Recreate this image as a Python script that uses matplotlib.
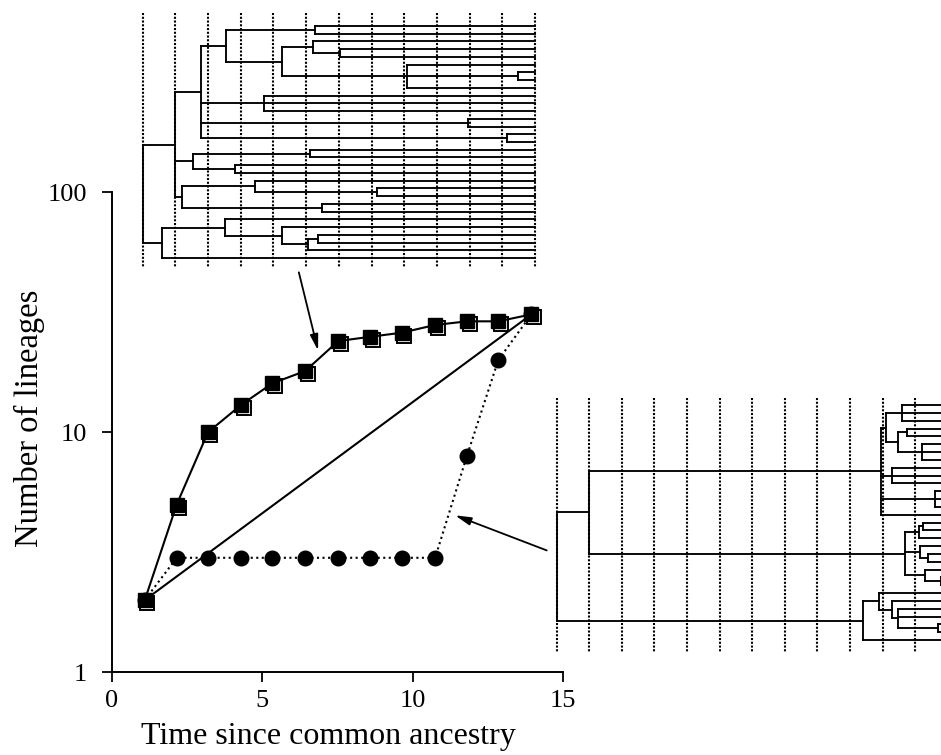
import matplotlib
matplotlib.use('Agg')
import matplotlib.pyplot as plt
import matplotlib.transforms as mtransforms
from matplotlib.ticker import NullLocator

plt.rcParams['font.family'] = ['Liberation Serif', 'DejaVu Serif']

W, H = 941, 755

# lineages-through-time data
time_pos = [1.10, 2.16, 3.20, 4.30, 5.34, 6.43, 7.53, 8.59, 9.64, 10.75, 11.81, 12.85, 13.95]
lineages_top = [2, 5, 10, 13, 16, 18, 24, 25, 26, 28, 29, 29, 31]
lineages_bottom = [2, 3, 3, 3, 3, 3, 3, 3, 3, 3, 8, 20, 31]

x_ticks = [0, 5, 10, 15]
y_ticks = [1, 10, 100]
y_ticklabels = ['1', '10', '100']

# trees: (node time, child, child, ...), T = tip
T = None
tip_time = 13.0
sample_times = list(range(1, 14))

top_tree = (1.0,
    (1.98,
        (2.78,
            (3.55,
                (6.27, T, T),
                (5.25,
                    (6.2, T, (7.05, T, T)),
                    (9.07, T, (12.48, T, T), T))),
            (4.71, T, T, T),
            (10.95, T, T),
            (12.14, T, T)),
        (2.54, (6.12, T, T), (3.82, T, T)),
        (2.19, (4.43, T, (8.16, T, T)), (6.47, T, T))),
    (1.58,
        (3.52, T, (5.25, T, (6.05, (6.35, T, T), T))),
        T))

bottom_tree = (1.0,
    (1.98,
        (10.95,
            (11.1, (11.6, T, T, T), (11.47, (11.76, T, T), (12.2, T, T, T))),
            (11.3, T, T, T),
            (12.6, T, T, T),
            T),
        (11.7,
            (12.1, (12.24, T, T), T),
            (12.15, T, (12.4, T, T)),
            (12.3, T, (12.8, T, T)))),
    (10.4,
        (10.9, T, (11.28, T, (11.47, T, T, (12.7, T, T)))),
        T))


def px_rect(left, top, right, bottom):
    return [left / W, 1 - bottom / H, (right - left) / W, (bottom - top) / H]


tree_style = dict(color='k', lw=1.35, solid_capstyle='projecting')


def draw_clade(ax, node, t_parent, counter):
    if node is None:
        y = counter[0]
        counter[0] += 1
        ax.plot([t_parent, tip_time], [y, y], **tree_style)
        return y
    t = node[0]
    ys = [draw_clade(ax, child, t, counter) for child in node[1:]]
    y = (ys[0] + ys[-1]) / 2
    ax.plot([t, t], [ys[0], ys[-1]], **tree_style)
    if t_parent is not None:
        ax.plot([t_parent, t], [y, y], **tree_style)
    return y


def draw_tree(ax, tree, dot_span):
    for t in sample_times:
        ax.plot([t, t], dot_span, color='k', lw=1.5, ls=(0, (1.0, 0.8)), zorder=0)
    draw_clade(ax, tree, None, [0])
    ax.axis('off')


fig = plt.figure(figsize=(W / 100, H / 100), dpi=100)

# main axes
ax = fig.add_axes(px_rect(111.7, 192.3, 563.0, 672.3))
ax.set_yscale('log')
ax.set_xlim(0, 15)
ax.set_ylim(1, 100)

ax.plot([time_pos[0], time_pos[-1]], [lineages_top[0], lineages_top[-1]], color='k', lw=1.5, zorder=2)
ax.plot(time_pos, lineages_bottom, color='k', ls=':', lw=1.5, marker='o', ms=10.5,
        mfc='k', mec='k', zorder=3)
open_tr = mtransforms.offset_copy(ax.transData, fig=fig, x=2.5, y=-3.0, units='dots')
ax.plot(time_pos, lineages_top, ls='none', marker='s', ms=10, mfc='white', mec='k',
        mew=1.4, transform=open_tr, zorder=4)
ax.plot(time_pos, lineages_top, color='k', lw=1.5, marker='s', ms=10, mfc='k', mec='k', zorder=5)

ax.set_xticks(x_ticks)
ax.set_yticks(y_ticks)
ax.set_yticklabels(y_ticklabels)
ax.yaxis.set_minor_locator(NullLocator())
for side in ['top', 'right']:
    ax.spines[side].set_visible(False)
for side in ['left', 'bottom']:
    ax.spines[side].set_linewidth(1.4)
ax.tick_params(direction='out', length=7, width=1.3, labelsize=19)
ax.tick_params(axis='y', pad=11)
ax.tick_params(axis='x', pad=6)
ax.set_xlabel('Time since common ancestry', fontsize=23)
ax.xaxis.set_label_coords(0.48, -0.104)
ax.set_ylabel('Number of lineages', fontsize=23.5)
ax.yaxis.set_label_coords(-0.148, 0.53)

# arrows from the trees to their curves
arrow = dict(arrowstyle='-|>,head_length=0.95,head_width=0.24', color='k', lw=1.3,
             shrinkA=0, shrinkB=0)
ax.annotate('', xy=(6.86, 21.9), xytext=(6.22, 46.4), arrowprops=arrow, annotation_clip=False)
ax.annotate('', xy=(11.41, 4.51), xytext=(14.46, 3.22), arrowprops=arrow, annotation_clip=False)

# tree insets
ax_top = fig.add_axes(px_rect(137.8, 10.5, 539.9, 269.6))
ax_top.set_xlim(0.85, 13.15)
ax_top.set_ylim(31.5, -2.0)
draw_tree(ax_top, top_tree, (-1.7, 31.2))

ax_bot = fig.add_axes(px_rect(551.8, 393.3, 941.0, 663.5))
ax_bot.set_xlim(0.85, 12.79)
ax_bot.set_ylim(33.0, -1.5)
draw_tree(ax_bot, bottom_tree, (-0.9, 31.7))

fig.savefig('out.png', dpi=100)
